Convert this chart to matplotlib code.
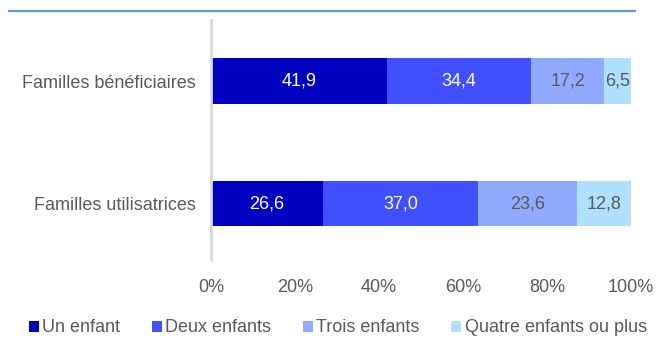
import matplotlib.pyplot as plt
from matplotlib.lines import Line2D
from matplotlib.patches import Patch

plt.rcParams['font.family'] = ['Liberation Sans', 'DejaVu Sans']

categories = ["Familles utilisatrices", "Familles bénéficiaires"]
series_names = ["Un enfant", "Deux enfants", "Trois enfants", "Quatre enfants ou plus"]
un_enfant = [26.6, 41.9]
deux_enfants = [37.0, 34.4]
trois_enfants = [23.6, 17.2]
quatre_plus = [12.8, 6.5]
tick_labels = ["0%", "20%", "40%", "60%", "80%", "100%"]

colors = ["#0000C0", "#4050FF", "#90AAFF", "#B0E0FF"]
label_colors = ["white", "white", "#595959", "#595959"]
grey = "#595959"

fig = plt.figure(figsize=(6.56, 3.40), dpi=100)
ax = fig.add_axes([211 / 656, 1 - 260 / 340, 420 / 656, 240 / 340])

y = [0, 1]
left = [0, 0]
for name, vals, col, lc in zip(series_names,
                               [un_enfant, deux_enfants, trois_enfants, quatre_plus],
                               colors, label_colors):
    bars = ax.barh(y, vals, left=left, height=0.375, color=col, label=name)
    ax.bar_label(bars, labels=[f"{v:.1f}".replace(".", ",") for v in vals],
                 label_type="center", color=lc, fontsize=13)
    left = [l + v for l, v in zip(left, vals)]

ax.set_xlim(0, 100)
ax.set_ylim(-0.461, 1.498)
ax.set_xticks(range(0, 101, 20))
ax.set_xticklabels(tick_labels, color=grey, fontsize=13)
ax.set_yticks(y)
ax.set_yticklabels(categories, color=grey, fontsize=13)
ax.tick_params(length=0)
ax.tick_params(axis="x", pad=14)
ax.tick_params(axis="y", pad=11)
for side in ["top", "right", "bottom"]:
    ax.spines[side].set_visible(False)
ax.spines["left"].set_color("#D9D9D9")
ax.spines["left"].set_linewidth(2)

# blue rule across the top
fig.add_artist(Line2D([9 / 656, 635 / 656], [1 - 11 / 340] * 2,
                      color="#5B9BD5", linewidth=1.6))

handles = [Patch(facecolor=c, edgecolor="none") for c in colors]
leg = fig.legend(handles, series_names, loc="center", ncol=4,
                 bbox_to_anchor=(0.515, 1 - 328 / 340), frameon=False,
                 handlelength=0.55, handleheight=0.55, handletextpad=0.2,
                 columnspacing=1.75, fontsize=13)
for t in leg.get_texts():
    t.set_color(grey)

fig.savefig("out.png", dpi=100)
